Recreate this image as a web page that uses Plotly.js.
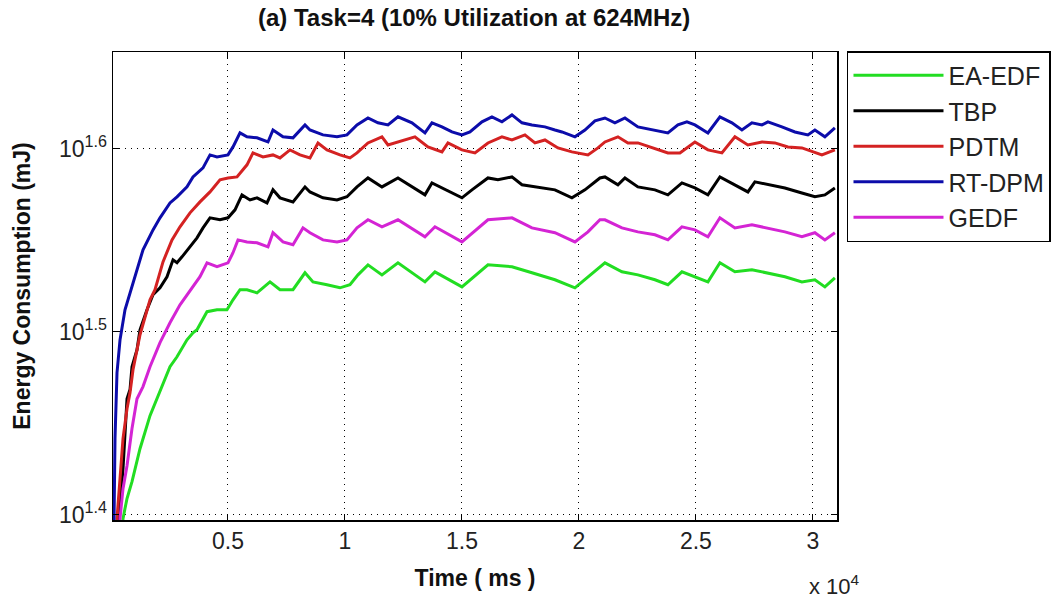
<!DOCTYPE html>
<html>
<head>
<meta charset="utf-8">
<script src="https://cdn.plot.ly/plotly-3.0.1.min.js"></script>
<style>
html,body{margin:0;padding:0;background:#fff;}
#chart{width:1056px;height:598px;}
</style>
</head>
<body>
<div id="chart"></div>
<script>
// Time (ms) and energy (mJ)
const timeEAEDF = [350,513,598,684,897,1239,1667,2094,2521,2821,3248,3504,3675,4103,4530,4957,5214,5513,5812,6239,6795,7222,7778,8291,8632,9231,9786,10214,10556,10983,11581,12265,13419,13846,15000,16111,17137,17991,18974,19829,20385,20897,21111,21838,22521,23248,23803,24402,24957,25513,26026,26667,27393,28077,28803,29530,30085,30513,30940];
const energyEAEDF = [22.0,24.99,25.31,25.63,26.18,27.29,28.45,29.32,30.26,30.64,31.30,31.58,31.70,32.43,32.51,32.51,32.92,33.34,33.34,33.21,33.67,33.34,33.34,34.06,33.67,33.55,33.42,33.55,33.97,34.40,33.97,34.49,33.67,34.10,33.46,34.40,34.32,34.06,33.76,33.42,33.89,34.32,34.49,34.10,33.97,33.76,33.55,34.10,33.89,33.67,34.49,34.10,34.19,34.06,33.89,33.67,33.76,33.46,33.84];

const timeTBP = [200,342,513,598,684,812,897,1111,1239,1538,1795,2094,2393,2650,2821,3034,3376,3675,3932,4231,4658,5000,5299,5598,5940,6239,6667,6923,7222,7778,8291,8504,9060,9658,10085,10513,10983,11581,12265,13419,13718,14701,15000,15427,16111,16538,17137,17564,18419,18974,19701,20256,20897,21111,21667,21966,22521,23248,23803,24402,24957,25513,26026,26667,27222,27521,28077,28803,29530,30085,30513,30940];
const energyTBP = [22.0,24.99,26.61,27.64,29.06,29.40,30.26,30.91,31.70,32.51,33.13,33.42,33.89,34.62,34.49,34.75,35.19,35.59,36.04,36.50,36.41,36.50,36.87,37.57,37.33,37.43,37.19,37.81,37.43,37.24,37.95,37.71,37.43,37.33,37.48,37.95,38.38,37.95,38.38,37.57,38.14,37.57,37.43,37.81,38.38,38.29,38.43,38.05,37.90,37.81,37.43,37.81,38.38,38.43,38.05,38.38,37.95,37.81,37.57,38.14,37.90,37.57,38.43,38.05,37.71,38.19,38.05,37.90,37.66,37.48,37.57,37.90];

const timePDTM = [150,256,385,513,684,812,940,1239,1667,1880,2222,2607,2949,3376,3803,4231,4658,5000,5385,5812,6068,6496,6923,7222,7650,8077,8504,8846,9231,9786,10214,10513,10983,11581,11838,12265,12991,13547,14145,14402,15000,15556,16111,16709,17137,17692,18120,18547,19103,19701,20385,20812,21111,21667,22094,22521,23120,23803,24316,24957,25513,26111,26667,27222,27821,28376,28932,29530,30385,30940];
const energyPDTM = [22.0,24.99,26.28,27.64,28.70,29.28,30.14,31.50,32.92,33.34,34.53,35.50,36.09,36.73,37.24,37.71,38.29,38.38,38.43,39.02,39.61,39.41,39.51,39.36,39.76,39.51,39.36,40.11,39.76,39.51,39.36,39.61,40.11,40.42,40.01,40.16,40.42,39.91,39.66,40.11,39.76,39.61,40.11,40.42,40.26,40.52,40.11,40.26,39.86,39.66,39.51,39.86,40.16,40.42,40.11,40.11,39.86,39.61,39.61,40.16,39.76,39.61,40.42,40.01,40.16,40.11,39.91,39.86,39.51,39.76];

const timeRTDPM = [40,171,256,385,598,812,1026,1368,1795,2094,2521,2821,3248,3504,3932,4231,4530,5000,5214,5513,5812,6239,6709,6923,7350,7778,8291,8504,9060,9658,10085,10513,10983,11410,11838,12265,12863,13419,13718,14145,14573,15000,15342,15855,16282,16709,17137,17564,17991,18547,18974,19274,19829,20256,20684,21111,21538,21966,22521,23248,23803,24231,24615,24957,25513,26026,26538,26966,27393,27821,28077,28675,29231,29786,30085,30513,30940];
const energyRTDPM = [20.0,27.64,30.03,31.30,32.51,33.21,33.89,35.06,35.95,36.50,37.19,37.48,37.95,38.43,38.87,39.51,39.41,39.51,39.91,40.62,40.42,40.37,40.16,40.77,40.42,40.37,41.03,40.77,40.52,40.42,40.52,41.03,41.39,41.14,41.03,41.45,41.14,40.62,41.14,40.93,40.67,40.52,40.67,41.19,41.45,41.19,41.55,41.14,41.03,40.93,40.77,40.67,40.42,40.77,41.24,41.39,41.14,41.39,40.93,40.77,40.62,41.03,41.19,41.03,40.62,41.45,41.14,40.77,41.14,41.03,41.19,40.93,40.67,40.52,40.77,40.42,40.88];

const timeGEDF = [250,385,513,684,897,1111,1368,1667,2094,2521,2949,3248,3504,3803,4103,4530,5000,5214,5427,5812,6239,6709,6923,7350,7778,8205,8504,9060,9658,10085,10513,10983,11581,12265,13419,13846,15000,16111,17137,17991,18974,19829,20385,20897,21111,21838,22521,23248,23803,24402,24957,25513,26026,26667,27393,28077,28803,29530,30085,30513,30940];
const energyGEDF = [22.0,24.99,25.95,26.71,27.99,29.06,29.51,30.26,31.19,31.98,32.71,33.13,33.46,33.89,34.49,34.32,34.49,34.93,35.50,35.41,35.37,35.19,35.82,35.41,35.28,36.04,35.82,35.50,35.41,35.50,36.04,36.41,36.09,36.41,35.64,36.09,35.41,36.41,36.50,36.04,35.82,35.41,35.86,36.41,36.41,36.04,35.86,35.73,35.50,36.09,35.95,35.64,36.50,36.04,36.18,36.04,35.86,35.64,35.82,35.50,35.82];

const seriesNames = ['EA-EDF','TBP','PDTM','RT-DPM','GEDF'];
const seriesColors = ['#22dd22','#000000','#d42222','#0c0caa','#d424d4'];
const xTickVals = [5000,10000,15000,20000,25000,30000];
const xTickText = ['0.5','1','1.5','2','2.5','3'];
const yTickVals = [25.1189,31.6228,39.8107];
const yTickText = ['10<sup>1.4</sup>','10<sup>1.5</sup>','10<sup>1.6</sup>'];

const xs = [timeEAEDF,timeTBP,timePDTM,timeRTDPM,timeGEDF];
const ys = [energyEAEDF,energyTBP,energyPDTM,energyRTDPM,energyGEDF];

const FONT = 'Liberation Sans, Arial, sans-serif';

const traces = seriesNames.map((n,i)=>({
  type:'scatter', mode:'lines', name:n,
  x: xs[i], y: ys[i],
  line:{color:seriesColors[i], width:3}
}));

const axisCommon = {
  showline:true, linecolor:'#000', linewidth:1.5, mirror:'ticks',
  ticks:'inside', ticklen:6, tickcolor:'#000', tickwidth:1,
  showgrid:true, gridcolor:'#000', gridwidth:1, griddash:'1px,5px',
  zeroline:false,
  tickfont:{family:FONT, size:23, color:'#222'}
};

const layout = {
  width:1056, height:598,
  paper_bgcolor:'#fff', plot_bgcolor:'#fff',
  margin:{l:113, r:219, t:52, b:78, autoexpand:false},
  title:{text:'<b>(a) Task=4 (10% Utilization at 624MHz)</b>', font:{family:FONT, size:24, color:'#111'}, x:0.449, xanchor:'center', y:0.97, yanchor:'middle'},
  xaxis:Object.assign({}, axisCommon, {
    range:[85,31030], tickmode:'array', tickvals:xTickVals, ticktext:xTickText,
    title:{text:'<b>Time ( ms )</b>', font:{family:FONT, size:23, color:'#111'}, standoff:17}
  }),
  yaxis:Object.assign({}, axisCommon, {
    type:'log', range:[1.397,1.653], tickmode:'array', tickvals:yTickVals, ticktext:yTickText,
    title:{text:'<b>Energy Consumption (mJ)</b>', font:{family:FONT, size:23, color:'#111'}, standoff:22}
  }),
  showlegend:true,
  legend:{x:1.0138, y:1.002, xanchor:'left', yanchor:'top',
    bgcolor:'#fff', bordercolor:'#000', borderwidth:1.5,
    font:{family:FONT, size:25, color:'#222'}, itemwidth:90},
  annotations:[{
    xref:'paper', yref:'paper', x:0.997, y:-0.138, xanchor:'center', yanchor:'middle',
    text:'x 10<sup>4</sup>', showarrow:false, font:{family:FONT, size:22, color:'#222'}
  }]
};

Plotly.newPlot('chart', traces, layout, {displayModeBar:false, staticPlot:true});
</script>
</body>
</html>
